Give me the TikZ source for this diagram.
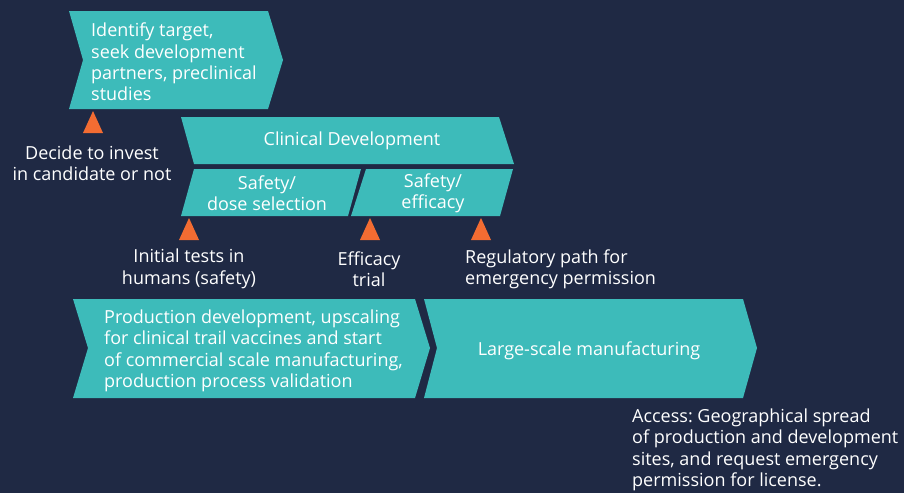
\documentclass[tikz,border=0pt]{standalone}
\usepackage{fontspec}
\setmainfont{Open Sans}
\frenchspacing
\definecolor{bgnavy}{HTML}{1F2944}
\definecolor{boxteal}{HTML}{3DBBBA}
\definecolor{triorange}{HTML}{F36C32}
\tikzset{boxfill/.style={fill=boxteal}, trifill/.style={fill=triorange},
  lbl/.style={text=white, inner sep=0pt, font=\fontsize{18}{21.4}\selectfont}}

\begin{document}
\begin{tikzpicture}[x=1pt,y=-1pt]
\fill[bgnavy] (0,0) rectangle (904,493);
\useasboundingbox (0,0) rectangle (904,493);
% phases
\fill[boxfill] (69,11)--(268,11)--(283,60)--(268,109)--(69,109)--(83,60)--cycle;
\fill[boxfill] (181,117)--(499,117)--(514,164)--(194,164)--cycle;
\fill[boxfill] (194,169)--(361,169)--(348,216)--(181,216)--cycle;
\fill[boxfill] (366,169)--(513,169)--(500,216)--(351,216)--cycle;
\fill[boxfill] (73,299)--(415,299)--(430,348)--(415,398)--(73,398)--(88,348)--cycle;
\fill[boxfill] (424,299)--(743,299)--(757,348)--(743,398)--(424,398)--(437,348)--cycle;
% milestones
\fill[trifill] (83,133)--(93,111)--(103,133)--cycle;
\fill[trifill] (179,240)--(189,218)--(199,240)--cycle;
\fill[trifill] (360,240)--(370,218)--(380,240)--cycle;
\fill[trifill] (471,240)--(481,218)--(491,240)--cycle;
% labels
\node[lbl, anchor=west, align=left] (identify) at (91,62) {Identify target,\\seek development\\partners, preclinical\\studies};
\node[lbl, align=center] (decide) at (92,163) {Decide to invest\\in candidate or not};
\node[lbl] (clinical) at (352,141) {Clinical Development};
\node[lbl, align=center] (dose) at (267,193) {Safety/\\dose selection};
\node[lbl, align=center] (efficacy) at (433,193) {Safety/\\efficacy};
\node[lbl, align=center] (initial) at (189,269) {Initial tests in\\humans (safety)};
\node[lbl, align=center] (trial) at (369,269) {Efficacy\\trial};
\node[lbl, anchor=west, align=left] (regulatory) at (465,269) {Regulatory path for\\emergency permission};
\node[lbl, anchor=west, align=left] (production) at (104,351) {Production development, upscaling\\for clinical trail vaccines and start\\of commercial scale manufacturing,\\production process validation};
\node[lbl] (largescale) at (589,351) {Large-scale manufacturing};
\node[lbl, anchor=west, align=left] (access) at (632,450) {Access: Geographical spread\\of production and development\\sites, and request emergency\\permission for license.};
\end{tikzpicture}
\end{document}
